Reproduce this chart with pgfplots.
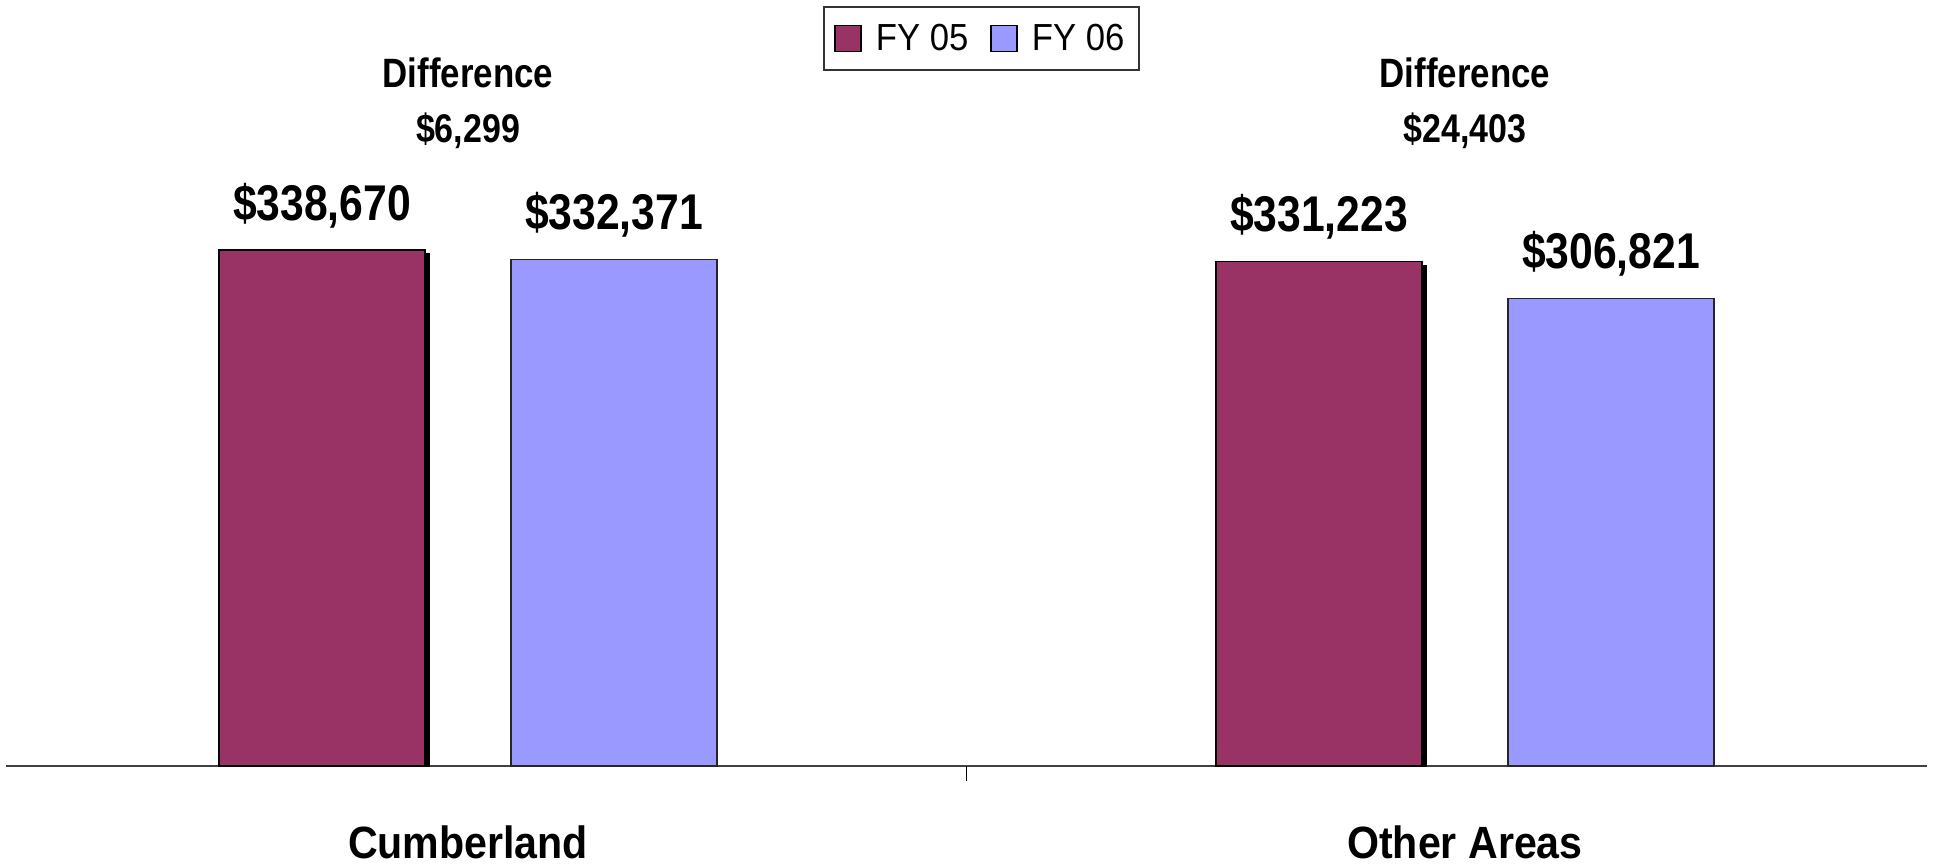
\documentclass[border=0pt]{standalone}
\usepackage{fontspec}
\setmainfont{Liberation Sans}
\newfontfamily\valfont[FakeStretch=0.85]{Liberation Sans}
\newfontfamily\catfont[FakeStretch=0.91]{Liberation Sans}
\newfontfamily\legfont[FakeStretch=0.92]{Liberation Sans}
\newfontfamily\difffont[FakeStretch=0.85]{Liberation Sans}
\usepackage{pgfplots}
\pgfplotsset{compat=1.18}
\usetikzlibrary{shadows}
\definecolor{fyA}{HTML}{993366}
\definecolor{fyB}{HTML}{9999FF}
\begin{document}
\begin{tikzpicture}
\begin{axis}[name=ax,
  scale only axis, width=960.5pt, height=383pt,
  xmin=-0.4634, xmax=1.4634, ymin=0, ymax=502760,
  hide y axis, axis x line*=bottom,
  x axis line style={-, line width=1.2pt, black!75},
  ybar, bar width=103pt,
  xtick={0,1}, xticklabels={Cumberland, Other Areas},
  major tick length=0pt,
  xticklabel style={font=\catfont\bfseries\fontsize{22.6}{24}\selectfont, anchor=base, yshift=-46pt},
  extra x ticks={0.5}, extra x tick labels={},
  extra x tick style={major tick length=7.5pt, tick align=outside, tick style={black, line width=0.6pt}},
  point meta=y,
  /pgf/number format/fixed, /pgf/number format/precision=0,
  /pgf/number format/1000 sep={,}, /pgf/number format/assume math mode=true,
  nodes near coords={\$\pgfmathprintnumber{\pgfplotspointmeta}},
  nodes near coords style={font=\valfont\bfseries\fontsize{25.1}{27}\selectfont, anchor=base, yshift=15pt, text=black},
  legend columns=2,
  legend style={at={(axis description cs:0.5078,1)}, anchor=north, yshift=-3pt,
    draw=black!80, line width=1pt, font=\legfont\fontsize{18.85}{20}\selectfont,
    inner xsep=5pt, inner ysep=6.5pt,
    /tikz/every odd column/.append style={column sep=5pt},
    /tikz/every even column/.append style={column sep=9pt}},
]
\addplot[forget plot, bar shift=-73pt, fill=fyA, draw=black, line width=0.75pt,
  drop shadow={shadow xshift=2pt, shadow yshift=-2pt, opacity=1, fill=black}]
  coordinates {(0,338670) (1,331223)};
\addplot[forget plot, bar shift=73pt, fill=fyB, draw=black!85, line width=0.75pt]
  coordinates {(0,332371) (1,306821)};
\addlegendimage{legend image code/.code={\draw[fill=fyA, draw=black, line width=0.75pt] (0pt,-6.5pt) rectangle (13pt,6.5pt);}}
\addlegendentry{FY 05}
\addlegendimage{legend image code/.code={\draw[fill=fyB, draw=black, line width=0.75pt] (0pt,-6.5pt) rectangle (13pt,6.5pt);}}
\addlegendentry{FY 06}
\node[font=\difffont\bfseries\fontsize{20.5}{22}\selectfont, anchor=base] at (axis cs:0,445600) {Difference};
\node[font=\difffont\bfseries\fontsize{20}{22}\selectfont, anchor=base] at (axis cs:0,409500) {\$6,299};
\node[font=\difffont\bfseries\fontsize{20.5}{22}\selectfont, anchor=base] at (axis cs:1,445600) {Difference};
\node[font=\difffont\bfseries\fontsize{20}{22}\selectfont, anchor=base] at (axis cs:1,409500) {\$24,403};
\end{axis}
\pgfresetboundingbox
\path ([xshift=-3pt,yshift=-49pt]ax.south west) rectangle ([xshift=5pt]ax.north east);
\end{tikzpicture}
\end{document}
